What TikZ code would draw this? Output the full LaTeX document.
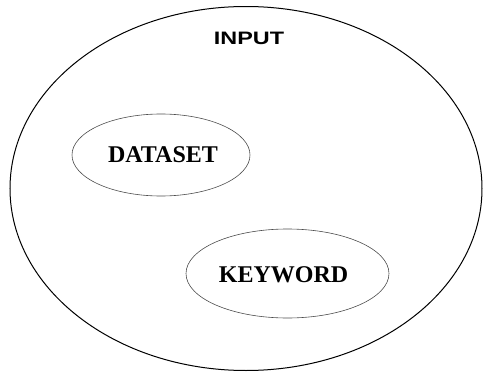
\documentclass[tikz,border=0pt]{standalone}
\usepackage{fontspec}
\usepackage{graphicx}
\setmainfont{Liberation Serif}
\newfontfamily\labsans{Liberation Sans}
\usetikzlibrary{shapes.geometric}
\begin{document}
\begin{tikzpicture}[x=1pt,y=-1pt,
  outer/.style={draw=black,line width=1pt,ellipse,minimum width=472pt,minimum height=364pt,inner sep=0pt},
  inner/.style={draw=black!70,line width=0.6pt,ellipse,inner sep=0pt},
  lab/.style={font=\fontsize{24}{28}\selectfont\bfseries}]
\useasboundingbox (0,0) rectangle (483,372);
\node[outer] (big) at (246,188.5) {};
\node[font=\labsans\fontsize{18}{22}\selectfont\bfseries] (input) at (249,38) {\scalebox{1.3}[1]{INPUT}};
\node[inner,minimum width=178pt,minimum height=82pt] (dataset) at (161,155) {};
\node[lab] (dtext) at (163,155) {DATASET};
\node[inner,minimum width=203pt,minimum height=89pt] (keyword) at (287.5,273.5) {};
\node[lab] (ktext) at (283.5,274.5) {KEYWORD};
\end{tikzpicture}
\end{document}
